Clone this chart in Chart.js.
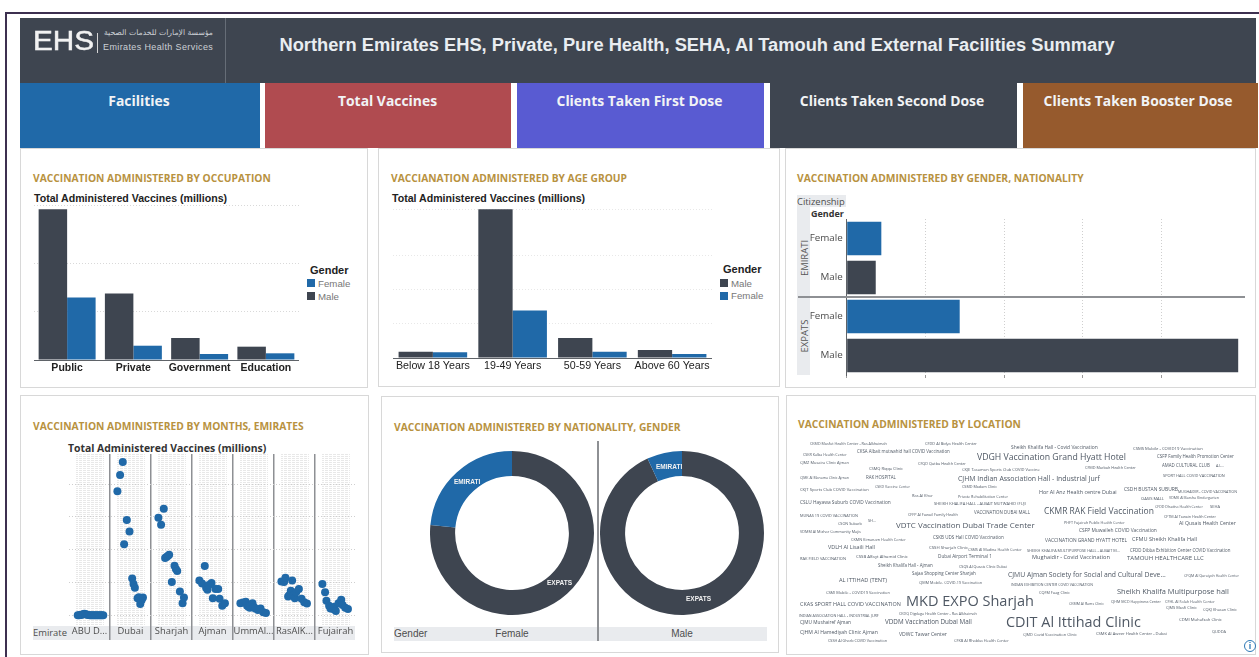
<!DOCTYPE html>
<html>
<head>
<meta charset="utf-8">
<title>Northern Emirates Summary</title>
<script src="https://cdn.jsdelivr.net/npm/chart.js@4/dist/chart.umd.min.js"></script>
<style>
    html, body { margin: 0; padding: 0; background: #fff; overflow: hidden; }
    #page { position: relative; width: 1259px; height: 657px; overflow: hidden; font-family: "Open Sans", sans-serif; }
    #page div, #page span, #page canvas { position: absolute; }
    .frame-top { left: 5px; top: 12px; width: 1254px; height: 2px; background: #3d3050; }
    .frame-left { left: 5px; top: 12px; width: 2px; height: 645px; background: #3d3050; }
    .header { left: 20px; top: 18px; width: 1236px; height: 65px; background: #3e4550; }
    .header-rule { left: 225px; top: 18px; width: 1px; height: 65px; background: #666d77; }
    .main-title { left: 226px; width: 942px; top: 34px; text-align: center; color: #e9edf1; font: bold 18.3px "Liberation Sans", sans-serif; white-space: nowrap; }
    .logo { left: 33px; top: 26px; color: #f2f2f2; font: 27px "Liberation Sans", sans-serif; transform-origin: left top; transform: scaleX(1.1); -webkit-text-stroke: .5px #f2f2f2; }
    .logo-rule { left: 97px; top: 33px; width: 1px; height: 20px; background: #d5d5d5; }
    .logo-ar { left: 103px; top: 28px; width: 110px; text-align: right; direction: rtl; color: #ccd0d5; font: 7.7px "DejaVu Sans", sans-serif; white-space: nowrap; }
    .logo-en { left: 103px; top: 42px; color: #ccd0d5; font: 9px "Liberation Sans", sans-serif; letter-spacing: .38px; white-space: nowrap; }
    .tile { top: 83px; height: 65px; color: #f1f3f5; font-weight: 700; font-size: 13.9px; text-align: center; line-height: 36px; white-space: nowrap; }
    .panel { box-sizing: border-box; border: 1px solid #d8d8d8; background: #fff; }
    .panel-title { color: #b8923f; font-weight: 700; font-size: 10.25px; white-space: nowrap; }
    .chart-title { font: bold 10.6px "Liberation Sans", sans-serif; color: #222; white-space: nowrap; }
    .legend-title { font: bold 11px "Liberation Sans", sans-serif; color: #222; }
    .legend-text { font: 9.7px "Liberation Sans", sans-serif; color: #777; }
    .swatch { width: 8px; height: 8px; }
    .strip { background: #e9ebee; }
    .strip-label { font-size: 9.4px; color: #4d4d4d; white-space: nowrap; }
    .strip-arial { font: 10px "Liberation Sans", sans-serif; color: #4d4d4d; white-space: nowrap; }
    .donut-label { font: bold 6.5px "Liberation Sans", sans-serif; color: #f2f2f2; white-space: nowrap; }
    .rotated { font-size: 9.5px; color: #555; transform: translate(-50%, -50%) rotate(-90deg); white-space: nowrap; }
    .cloud-word { color: #4f5864; white-space: nowrap; transform: translateY(-50%); filter: blur(.25px); }
    .info { left: 1244px; top: 640px; width: 10px; height: 10px; border: 1.5px solid #2c77b5; border-radius: 50%; color: #2c77b5; font: bold 9px "Liberation Sans", sans-serif; text-align: center; line-height: 10px; }
</style>
</head>
<body>
<div id="page">
    <div class="frame-top"></div>
    <div class="frame-left"></div>

    <div class="header"></div>
    <div class="header-rule"></div>
    <div class="logo">EHS</div>
    <div class="logo-rule"></div>
    <div class="logo-ar">مؤسسة الإمارات للخدمات الصحية</div>
    <div class="logo-en">Emirates Health Services</div>
    <div class="main-title">Northern Emirates EHS, Private, Pure Health, SEHA, Al Tamouh and External Facilities Summary</div>

    <div class="tile" style="left:20px;width:240px;background:#2069a8;text-indent:-2px">Facilities</div>
    <div class="tile" style="left:265px;width:246px;background:#b04b50;text-indent:-1px">Total Vaccines</div>
    <div class="tile" style="left:517px;width:247px;background:#595bd2;text-indent:-2px">Clients Taken First Dose</div>
    <div class="tile" style="left:770px;width:247px;background:#3e4550;text-indent:-3px">Clients Taken Second Dose</div>
    <div class="tile" style="left:1023px;width:235px;background:#965a2d;text-indent:-5px">Clients Taken Booster Dose</div>

    <div class="panel" style="left:20px;top:148px;width:348px;height:240px"></div>
    <div class="panel" style="left:378px;top:148px;width:402px;height:239px"></div>
    <div class="panel" style="left:785px;top:148px;width:471px;height:240px"></div>
    <div class="panel" style="left:20px;top:395px;width:349px;height:260px"></div>
    <div class="panel" style="left:381px;top:396px;width:398px;height:257px"></div>
    <div class="panel" style="left:786px;top:395px;width:470px;height:260px"></div>

    <div class="panel-title" style="left:33px;top:171px">VACCINATION ADMINISTERED BY OCCUPATION</div>
    <div class="panel-title" style="left:391px;top:171px">VACCIANATION ADMINISTERED BY AGE GROUP</div>
    <div class="panel-title" style="left:797px;top:171px">VACCINATION ADMINISTERED BY GENDER, NATIONALITY</div>
    <div class="panel-title" style="left:33px;top:419px">VACCINATION ADMINISTERED BY MONTHS, EMIRATES</div>
    <div class="panel-title" style="left:394px;top:420px">VACCINATION ADMINISTERED BY NATIONALITY, GENDER</div>
    <div class="panel-title" style="left:798px;top:417px">VACCINATION ADMINISTERED BY LOCATION</div>

    <!-- occupation -->
    <div class="chart-title" style="left:34px;top:192px">Total Administered Vaccines (millions)</div>
    <canvas id="occupationChart" width="265" height="171" style="left:34px;top:205px"></canvas>
    <div class="legend-title" style="left:310px;top:264px">Gender</div>
    <div class="swatch" style="left:307px;top:279px;background:#2069a8"></div>
    <div class="legend-text" style="left:318px;top:278px">Female</div>
    <div class="swatch" style="left:307px;top:292px;background:#3e4550"></div>
    <div class="legend-text" style="left:318px;top:291px">Male</div>

    <!-- age group -->
    <div class="chart-title" style="left:392px;top:192px">Total Administered Vaccines (millions)</div>
    <canvas id="ageChart" width="319" height="165" style="left:393px;top:209px"></canvas>
    <div class="legend-title" style="left:723px;top:263px">Gender</div>
    <div class="swatch" style="left:720px;top:279px;background:#3e4550"></div>
    <div class="legend-text" style="left:731px;top:278px">Male</div>
    <div class="swatch" style="left:720px;top:292px;background:#2069a8"></div>
    <div class="legend-text" style="left:731px;top:290px">Female</div>

    <!-- gender, nationality -->
    <div class="strip" style="left:797px;top:195px;width:49px;height:12px"></div>
    <div class="strip-label" style="left:797px;top:195px">Citizenship</div>
    <div class="strip-label" style="left:811px;top:207px;font-weight:700;font-size:9px;color:#333">Gender</div>
    <div class="strip" style="left:797px;top:207px;width:13px;height:168px"></div>
    <div class="rotated" style="left:804px;top:258px">EMIRATI</div>
    <div class="rotated" style="left:804px;top:336px">EXPATS</div>
    <canvas id="nationalityChart" width="437" height="159" style="left:806px;top:219px"></canvas>
    <div style="left:798px;top:296px;width:447px;height:1.5px;background:#8e9094"></div>

    <!-- months, emirates -->
    <div class="chart-title" style="left:68px;top:441px;font:700 10.4px 'Open Sans',sans-serif;color:#333">Total Administered Vaccines (millions)</div>
    <div class="strip" style="left:33px;top:626px;width:322px;height:14px"></div>
    <div class="strip-label" style="left:33px;top:626px">Emirate</div>
    <canvas id="monthsChart" width="287" height="186" style="left:69px;top:454px"></canvas>

    <!-- nationality, gender -->
    <div class="strip" style="left:394px;top:627px;width:373px;height:14px"></div>
    <div class="strip-arial" style="left:394px;top:628px">Gender</div>
    <div class="strip-arial" style="left:512px;top:628px;transform:translateX(-50%)">Female</div>
    <div class="strip-arial" style="left:682px;top:628px;transform:translateX(-50%)">Male</div>
    <div style="left:597px;top:441px;width:1.5px;height:200px;background:#8e9094"></div>
    <canvas id="femaleDonut" width="164" height="164" style="left:430px;top:451px"></canvas>
    <canvas id="maleDonut" width="164" height="164" style="left:600px;top:451px"></canvas>
    <div class="donut-label" style="left:454px;top:478px">EMIRATI</div>
    <div class="donut-label" style="left:547px;top:579px">EXPATS</div>
    <div class="donut-label" style="left:656px;top:463px">EMIRATI</div>
    <div class="donut-label" style="left:686px;top:595px">EXPATS</div>

    <!-- location -->
    <div id="cloud"></div>
    <div class="info">i</div>
</div>

<script>
const occupations = ["Public", "Private", "Government", "Education"];
const occupationMale = [3.11, 1.375, 0.454, 0.275];
const occupationFemale = [1.29, 0.295, 0.124, 0.138];

const ageGroups = ["Below 18 Years", "19-49 Years", "50-59 Years", "Above 60 Years"];
const ageMale = [0.184, 4.34, 0.583, 0.233];
const ageFemale = [0.165, 1.39, 0.184, 0.117];

const genderRows = ["Female", "Male", "Female", "Male"];
const femaleEmirati = 0.44;
const maleEmirati = 0.369;
const femaleExpats = 1.436;
const maleExpats = 4.975;

const emirates = ["ABU D...", "Dubai", "Sharjah", "Ajman", "UmmAl...", "RasAlK...", "Fujairah"];

const abuDhabiMonths = [1, 2, 3, 4, 5, 6, 7, 8, 9, 10, 11, 12, 13, 14, 15, 16, 17, 18, 19, 20];
const abuDhabiValues = [0.001, 0.001, 0.002, 0.003, 0.004, 0.006, 0.004, 0.003, 0.002, 0.001, 0.001, 0.001, 0.001, 0.001, 0.001, 0.001, 0.001, 0.001, 0.001, 0.001];
const dubaiMonths = [0, 2, 4, 5, 7, 9, 11, 12, 13, 15, 16, 17, 18, 19];
const dubaiValues = [0.378, 0.428, 0.467, 0.217, 0.291, 0.256, 0.113, 0.096, 0.085, 0.053, 0.056, 0.035, 0.047, 0.055];
const sharjahMonths = [0, 2, 4, 5, 6, 7, 8, 10, 12, 13, 14, 16, 18, 19];
const sharjahValues = [0.298, 0.276, 0.325, 0.175, 0.178, 0.181, 0.185, 0.102, 0.152, 0.142, 0.136, 0.073, 0.038, 0.055];
const ajmanMonths = [0, 2, 4, 5, 6, 7, 9, 10, 12, 14, 15, 17, 19];
const ajmanValues = [0.107, 0.098, 0.151, 0.085, 0.079, 0.093, 0.099, 0.053, 0.081, 0.081, 0.051, 0.03, 0.038];
const ummAlQuwainMonths = [0, 2, 4, 5, 6, 7, 9, 10, 11, 13, 15, 17, 19];
const ummAlQuwainValues = [0.038, 0.04, 0.042, 0.03, 0.027, 0.024, 0.038, 0.026, 0.022, 0.017, 0.022, 0.01, 0.008];
const rasAlKhaimahMonths = [0, 2, 3, 5, 6, 7, 8, 9, 10, 11, 13, 15, 17, 19];
const rasAlKhaimahValues = [0.104, 0.102, 0.115, 0.058, 0.063, 0.076, 0.107, 0.063, 0.053, 0.071, 0.081, 0.051, 0.041, 0.037];
const fujairahMonths = [0, 2, 3, 5, 6, 8, 9, 10, 12, 14, 15, 17, 19];
const fujairahValues = [0.096, 0.071, 0.045, 0.03, 0.022, 0.02, 0.027, 0.014, 0.038, 0.048, 0.032, 0.024, 0.02];

const cloudWords = [
    "CKMD Masfot Health Center - Ras Alkhaimah", "CFDD Al Bidya Health Center", "Sheikh Khalifa Hall - Covid Vaccination",
    "CSMS Mobile - COVID19 Vaccination", "CSKR Kalba Health Center", "CKSA Albait mutwahid hall COVID Vaccination",
    "VDGH Vaccination Grand Hyatt Hotel", "CSFP Family Health Promotion Center", "CJMZ Musaira Clinic Ajman",
    "CFQD Qutbu Health Center", "CSMQ Riqqa Clinic", "CKJE Tasamon Sports Club COVID Vaccine",
    "CFMD Marbah Health Center", "AMAD CULTURAL CLUB", "A.L...",
    "CJMK Al Manama Clinic Ajman", "RAK HOSPITAL", "CJHM Indian Association Hall - Industrial Jurf",
    "SPORT HALL COVID VACCINATION", "CKJT Sports Club COVID Vaccination", "CSKD Vaccine Center",
    "CSMD Madam Clinic", "Hor Al Anz Health centre Dubai", "CSDH BUSTAN SUBURB",
    "MUGHAIDIR - COVID VACCINATION", "Ras Al Khor", "Private Rehabilitation Center",
    "OASIS MALL", "VDMK Al Barsha Kindergarten", "CSLU Hayawa Suburb COVID Vaccination",
    "SHEIKH KHALIFA HALL - ALBAIT MUTWAHID (FUJ)", "VACCINATION DUBAI MALL", "CKMR RAK Field Vaccination",
    "CFDD Dhadna Health Center", "SEHA", "MUNAS 19 COVID VACCINATION",
    "CFFP Al Fuwail Family Health", "CFTM Al Tawain Health Center", "CSON Suburb",
    "SH...", "VDTC Vaccination Dubai Trade Center", "PHFT Fujairah Public Health Center",
    "Al Qusais Health Center", "CSFP Muwaileh COVID Vaccination", "VDMM Al Mizhar Community Majis",
    "CKMN Kimanam Health Center", "CSKB UDS Hall COVID Vaccination", "VACCINATION GRAND HYATT HOTEL",
    "CFMU Sheikh Khalifa Hall", "VDLH Al Lisaili Hall", "CSSH Sharjah Clinic",
    "CSMS Al Madina Health Center", "SHEIKH KHALIFA MULTIPURPOSE HALL - ALBAIT M...", "CFDD Dibba Exhibition Center COVID Vaccination",
    "RAK FIELD VACCINATION", "CSSB Alfayt Alhamid Clinic", "Dubai Airport Terminal 1",
    "Mughaidir - Covid Vaccination", "TAMOUH HEALTHCARE LLC", "Sheikh Khalifa Hall - Ajman",
    "CSQS Al Qusais Clinic Dubai", "Sajaa Shopping Center Sharjah", "CJMU Ajman Society for Social and Cultural Deve...",
    "CFQM Al Quraiyah Health Center", "AL ITTIHAD (TENT)", "CJMM Mobile- COVID-19 Vaccination",
    "INDIAN EXHIBITION CENTER COVID VACCINATION", "CSMI Mobile - COVID19 Vaccination", "CQFM Fuag Clinic",
    "Sheikh Khalifa Multipurpose hall", "MKD EXPO Sharjah", "CKAS SPORT HALL COVID VACCINATION",
    "CKMM Al Rams Clinic", "CJHM MCD Happiness Center", "CFHL Al Falah Health Center",
    "CJMS Masfi Clinic", "CQKJ Khasan Clinic", "INDIAN ASSOCIATION HALL - INDUSTRIAL JURF",
    "CKDQ Digdaga Health Center - Ras Alkhaimah", "CJMU Mushairef Ajman", "VDDM Vaccination Dubai Mall",
    "CDIT Al Ittihad Clinic", "CDMI Muhafzah Clinic", "CJHM Al Hamediyah Clinic Ajman",
    "VDWC Tawar Center", "CJMD Covid Vaccination Clinic", "CSMK Al Aweer Health Center - Dubai",
    "QUDDA", "CSSH Al Gharb COVID Vaccination", "CFKB Al Rhabba Health Center"
];
// left, middle, width of each word, same order as cloudWords
const cloudPlaces = [
    [810, 443, 77], [925, 443, 52], [1011, 447, 87], [1133, 448, 70], [803, 454, 44], [857, 451, 93],
    [977, 457, 149], [1157, 456, 77], [800, 462, 49], [918, 463, 48], [869, 468, 34], [962, 469, 78],
    [1085, 467, 51], [1162, 465, 48], [1216, 465, 8], [800, 477, 49], [866, 477, 30], [958, 478, 142],
    [1163, 475, 62], [800, 489, 69], [875, 486, 35], [962, 486, 35], [1039, 492, 78], [1124, 489, 54],
    [1178, 491, 59], [912, 495, 21], [958, 496, 50], [1141, 498, 23], [1169, 497, 50], [800, 502, 91],
    [934, 503, 92], [974, 512, 56], [1044, 510, 110], [1155, 506, 48], [1210, 506, 10], [800, 515, 58],
    [908, 514, 50], [1164, 516, 52], [838, 523, 24], [868, 520, 8], [896, 525, 139], [1064, 522, 61],
    [1179, 523, 57], [1079, 530, 78], [800, 531, 61],
    [851, 539, 55], [933, 537, 71], [1045, 540, 82], [1132, 539, 65], [828, 547, 47], [929, 547, 39],
    [968, 549, 54], [1027, 550, 93], [1130, 550, 101], [800, 558, 46], [856, 556, 52], [938, 556, 54],
    [1032, 557, 78], [1127, 558, 77], [878, 565, 55], [959, 566, 48], [912, 573, 64], [1008, 574, 158],
    [1184, 575, 55], [839, 580, 48], [919, 582, 63], [1011, 584, 82], [826, 592, 64], [1039, 592, 31],
    [1117, 591, 112], [906, 600, 128], [800, 604, 101], [1069, 603, 35], [1111, 601, 50], [1165, 601, 50],
    [1166, 607, 31], [1203, 609, 34], [799, 615, 80], [899, 613, 78], [800, 622, 51], [885, 621, 87],
    [1006, 621, 135], [1179, 619, 43], [800, 632, 78], [899, 634, 48], [1023, 634, 54], [1096, 633, 71],
    [1212, 631, 14], [828, 640, 59], [954, 640, 55]
];

const DARK = "#3e4550";
const BLUE = "#2069a8";

Chart.defaults.animation = false;
Chart.defaults.responsive = false;
Chart.defaults.plugins.legend.display = false;
Chart.defaults.plugins.tooltip.enabled = false;
Chart.defaults.layout.autoPadding = false;

function hiddenY(max, gridColor) {
    return {
        min: 0,
        max: max,
        ticks: { display: false, stepSize: 1 },
        border: { display: false, dash: [1, 2] },
        grid: { color: gridColor, drawTicks: false },
        afterFit: (scale) => { scale.width = 0; },
    };
}

function createBars(id, labels, first, second, colors, font, max, gridColor) {
    new Chart(document.getElementById(id), {
        type: "bar",
        data: {
            labels: labels,
            datasets: [
                { data: first, backgroundColor: colors[0], barPercentage: 1, categoryPercentage: 0.86 },
                { data: second, backgroundColor: colors[1], barPercentage: 1, categoryPercentage: 0.86 },
            ],
        },
        options: {
            scales: {
                x: {
                    grid: { display: false, drawTicks: false },
                    border: { color: "#5f6368" },
                    ticks: { font: font, color: "#222", padding: 2, maxRotation: 0, autoSkip: false },
                    afterFit: (scale) => { scale.height = 16; },
                },
                y: hiddenY(max, gridColor),
            },
        },
    });
}

createBars("occupationChart", occupations, occupationMale, occupationFemale, [DARK, BLUE],
    { family: "Liberation Sans", size: 10.5, weight: "bold" }, 3.2, "#d9d9d9");
createBars("ageChart", ageGroups, ageMale, ageFemale, [DARK, BLUE],
    { family: "Liberation Sans", size: 10.7 }, 4.35, "#e8e8e8");

new Chart(document.getElementById("nationalityChart"), {
    type: "bar",
    data: {
        labels: genderRows,
        datasets: [{
            data: [femaleEmirati, maleEmirati, femaleExpats, maleExpats],
            backgroundColor: [BLUE, DARK, BLUE, DARK],
            barPercentage: 0.865,
            categoryPercentage: 1,
        }],
    },
    options: {
        indexAxis: "y",
        scales: {
            x: {
                min: 0,
                max: 5.036,
                ticks: { display: false, stepSize: 1 },
                border: { display: false, dash: [1, 2] },
                grid: { color: "#cfcfcf", tickLength: 3, tickColor: "#999" },
                afterFit: (scale) => { scale.height = 3; },
            },
            y: {
                grid: { display: false, drawTicks: false },
                border: { color: "#5f6368" },
                ticks: { font: { family: "Open Sans", size: 9.8 }, color: "#4d4d4d", padding: 4 },
                afterFit: (scale) => {
                    scale.width = 40.7;
                    // no extra room for half a label above and below the rows
                    scale.paddingTop = 0;
                    scale.paddingBottom = 0;
                },
            },
        },
    },
});

// Facets share one x axis: 30.5 units per emirate, months 0-20 sit after a small gap
const FACET = 30.5;
const FACET_GAP = 5.5;

const facetMonths = [abuDhabiMonths, dubaiMonths, sharjahMonths, ajmanMonths, ummAlQuwainMonths, rasAlKhaimahMonths, fujairahMonths];
const facetValues = [abuDhabiValues, dubaiValues, sharjahValues, ajmanValues, ummAlQuwainValues, rasAlKhaimahValues, fujairahValues];

function buildFacetTicks(scale) {
    const ticks = [];
    emirates.forEach((name, i) => {
        const start = i * FACET;
        for (let m = 0; m <= 20; m++) {
            ticks.push({ value: start + FACET_GAP + m, kind: "month", name: "" });
        }
        ticks.push({ value: start + FACET / 2, kind: "centre", name: name });
        if (i > 0) ticks.push({ value: start, kind: "split", name: "" });
    });
    scale.ticks = ticks;
}

new Chart(document.getElementById("monthsChart"), {
    type: "scatter",
    data: {
        datasets: emirates.map((name, i) => ({
            label: name,
            data: facetMonths[i].map((m, j) => ({ x: i * FACET + FACET_GAP + m, y: facetValues[i][j] })),
            backgroundColor: BLUE,
            pointRadius: 4,
            pointBorderWidth: 0,
        })),
    },
    options: {
        scales: {
            x: {
                type: "linear",
                min: 0,
                max: FACET * 7,
                afterBuildTicks: buildFacetTicks,
                ticks: {
                    autoSkip: false,
                    maxRotation: 0,
                    padding: -14,
                    font: { family: "Open Sans", size: 9.4 },
                    color: "#4d4d4d",
                    callback: (value, index, ticks) => ticks[index].name,
                },
                grid: {
                    tickLength: 15,
                    color: (ctx) => {
                        if (ctx.tick.kind === "split") return "#8e9094";
                        return ctx.tick.kind === "month" ? "rgba(0,0,0,0.09)" : "rgba(0,0,0,0)";
                    },
                    lineWidth: (ctx) => (ctx.tick.kind === "split" ? 1.5 : 1),
                    tickColor: (ctx) => (ctx.tick.kind === "split" ? "#8e9094" : "rgba(0,0,0,0)"),
                },
                border: {
                    display: false,
                    dash: (ctx) => (ctx.tick.kind === "split" ? [] : [1, 1]),
                },
                afterFit: (scale) => {
                    scale.height = 15;
                    scale.paddingLeft = 0;
                    scale.paddingRight = 0;
                },
            },
            y: {
                min: -0.0285,
                max: 0.4915,
                afterBuildTicks: (scale) => {
                    scale.ticks = [0, 0.1, 0.2, 0.3, 0.4].map((v) => ({ value: v }));
                },
                ticks: { display: false },
                border: { display: false, dash: [1, 2] },
                grid: { color: "#cfcfcf", drawTicks: false },
                afterFit: (scale) => { scale.width = 0; },
            },
        },
    },
});

function createDonut(id, expats, emirati) {
    new Chart(document.getElementById(id), {
        type: "doughnut",
        data: {
            labels: ["EXPATS", "EMIRATI"],
            datasets: [{ data: [expats, emirati], backgroundColor: [DARK, BLUE], borderWidth: 0 }],
        },
        options: { cutout: "69.4%" },
    });
}

createDonut("femaleDonut", femaleExpats, femaleEmirati);
createDonut("maleDonut", maleExpats, maleEmirati);

// Word cloud: font size comes from the width the word takes in the picture
const measure = document.createElement("canvas").getContext("2d");
const cloud = document.getElementById("cloud");
cloudWords.forEach((word, i) => {
    const [left, middle, width] = cloudPlaces[i];
    measure.font = '100px "Open Sans"';
    const size = (width / measure.measureText(word).width) * 100;
    const el = document.createElement("span");
    el.className = "cloud-word";
    el.textContent = word;
    el.style.left = left + "px";
    el.style.top = middle + "px";
    el.style.fontSize = size.toFixed(2) + "px";
    cloud.appendChild(el);
});
</script>
</body>
</html>
